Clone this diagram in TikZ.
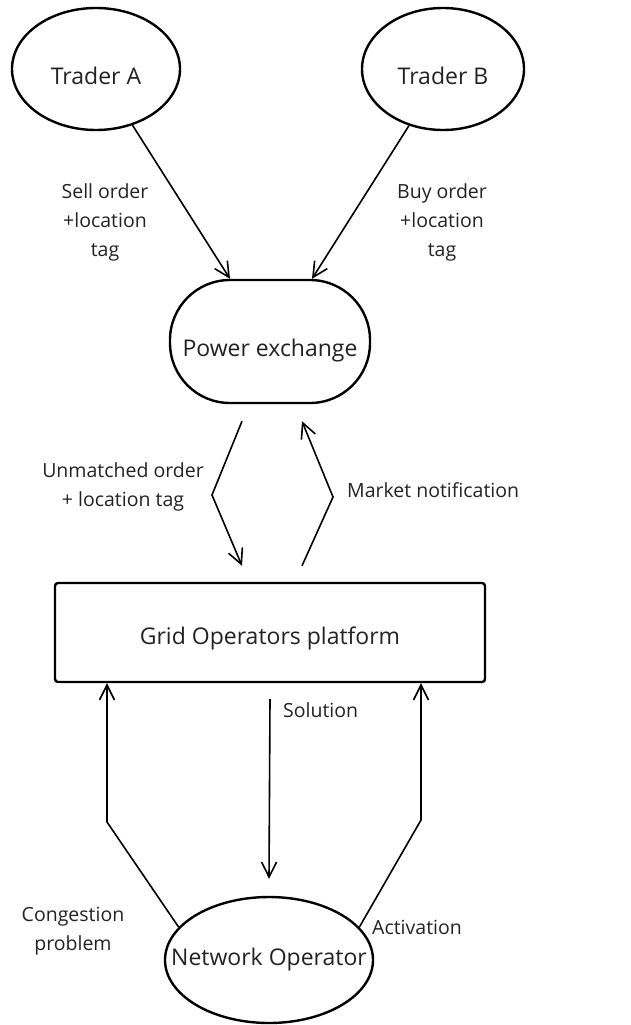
\documentclass[tikz,border=0pt]{standalone}
\usepackage{fontspec}
\setmainfont{Open Sans}
\usetikzlibrary{arrows.meta,calc,shapes.geometric}
\definecolor{ink}{HTML}{222222}
\tikzset{
  nodefont/.style={text=ink,font=\fontsize{23}{28}\selectfont,inner sep=0pt},
  actor/.style={ellipse,draw,line width=2.4pt,inner sep=0pt},
  exchange/.style={rectangle,draw,line width=2.4pt,rounded corners=60pt,
    minimum width=200pt,minimum height=123pt,inner sep=0pt},
  platform/.style={rectangle,draw,line width=2.4pt,rounded corners=3pt,
    minimum width=430pt,minimum height=99pt,inner sep=0pt},
  inscribe/.style 2 args={label={[nodefont,yshift=#1]center:#2}},
  flow/.style={line width=1.6pt,-{Straight Barb[length=15pt,width=15pt,line width=1.6pt]}},
  lbl/.style={text=ink,align=center,inner sep=0pt,
    font=\fontsize{19.5}{29}\selectfont},
}
\begin{document}
\begin{tikzpicture}[x=1pt,y=-1pt]
\useasboundingbox (0,0) rectangle (631,1025);

% participants (shapes keep a fixed size, the name sits in the centre)
\node[actor,minimum width=168pt,minimum height=122pt,
  inscribe={-7pt}{Trader A}] (ta) at (96,69) {};
\node[actor,minimum width=162pt,minimum height=122pt,
  inscribe={-7pt}{Trader B}] (tb) at (443,69) {};
\node[exchange,inscribe={-9pt}{Power exchange}] (px) at (270,341.5) {};
\node[platform,inscribe={-6pt}{Grid Operators platform}] (grid) at (270,632.5) {};
\node[actor,minimum width=208pt,minimum height=126pt,
  inscribe={0pt}{Network Operator}] (no) at (269,960) {};

% bend points of the side connectors
\coordinate (bendU) at (212,495);
\coordinate (bendM) at (333,497);
\coordinate (bendL) at (107,822);
\coordinate (bendR) at (421,820);

% orders from the traders
\draw[flow] (ta.-57) -- ($(px.north)+(-40,0)$);
\draw[flow] (tb.-121) -- ($(px.north)+(42,0)$);

% exchange <-> platform
\draw[flow] ($(px.south)+(-28,17)$) -- (bendU) -- ($(grid.north)+(-28,-16)$);
\draw[flow] ($(grid.north)+(32,-16)$) -- (bendM) -- ($(px.south)+(32,17)$);

% platform <-> network operator
\draw[flow] (no.160) -- (bendL) -- (bendL |- grid.south);
\draw[flow] (no.20) -- (bendR) -- (bendR |- grid.south);
\draw[flow] ([yshift=-16pt]grid.south) -- ([yshift=17pt]no.north);

% labels
\node[lbl] (lsell) at (105,222) {Sell order\\+location\\tag};
\node[lbl] (lbuy) at (442,222) {Buy order\\+location\\tag};
\node[lbl] (lunm) at (123,487) {Unmatched order\\+ location tag};
\node[lbl,anchor=west] (lmkt) at (347,490) {Market notification};
\node[lbl,anchor=west] (lsol) at (283,710) {Solution};
\node[lbl] (lcong) at (73,931) {Congestion\\problem};
\node[lbl,anchor=west] (lact) at (372,927) {Activation};
\end{tikzpicture}
\end{document}
